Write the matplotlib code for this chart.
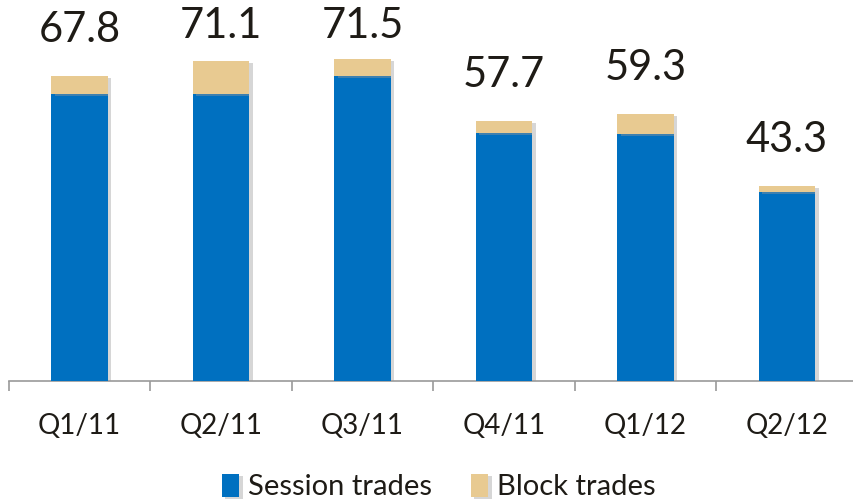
import matplotlib.pyplot as plt
import matplotlib.patheffects as pe
import numpy as np

quarters = ["Q1/11", "Q2/11", "Q3/11", "Q4/11", "Q1/12", "Q2/12"]
session = [63.8, 63.8, 67.8, 55.1, 54.9, 42.0]
block = [4.0, 7.3, 3.7, 2.6, 4.4, 1.3]
totals = ["67.8", "71.1", "71.5", "57.7", "59.3", "43.3"]

blue = "#0070C0"
tan = "#E8CA91"
txt = "#1E1B16"

plt.rcParams['font.family'] = ['Lato', 'DejaVu Sans']

fig = plt.figure(figsize=(8.54, 4.99), dpi=100)
ax = fig.add_axes([8.7 / 854, 118 / 499, 849 / 854, 360 / 499])

x = np.arange(len(quarters))
shadow = [pe.SimplePatchShadow(offset=(2.5, -1.5), shadow_rgbFace="#999999", alpha=0.4), pe.Normal()]
b1 = ax.bar(x, session, width=0.4, color=blue, label="Session trades", zorder=3)
b2 = ax.bar(x, block, width=0.4, bottom=session, color=tan, label="Block trades", zorder=3)
for bar in list(b1) + list(b2):
    bar.set_path_effects(shadow)

tot = np.array(session) + np.array(block)
label_y = np.minimum(tot + 10.2, 78.9)
for xi, yi, t in zip(x, label_y, totals):
    ax.text(xi, yi, t, ha="center", va="center", fontsize=30, color=txt)

ax.set_xlim(-0.5, 5.5)
ax.set_ylim(0, 80)
ax.set_yticks([])
for s in ["top", "right", "left"]:
    ax.spines[s].set_visible(False)
ax.spines["bottom"].set_color("#9A9A9A")
ax.spines["bottom"].set_linewidth(1.2)

ax.set_xticks(x)
ax.set_xticklabels(quarters, fontsize=20, color=txt)
ax.tick_params(axis="x", which="major", length=0, pad=23)
ax.set_xticks(np.arange(-0.5, 6.0, 1.0), minor=True)
ax.tick_params(axis="x", which="minor", length=7, width=1.2, color="#9A9A9A", direction="out")

fig.legend(handles=[b1, b2], loc="center", bbox_to_anchor=(0.5135, 12 / 499), ncol=2,
           frameon=False, fontsize=21, handlelength=0.6, handleheight=0.85,
           handletextpad=0.28, columnspacing=1.35, labelcolor=txt)

fig.savefig("out.png", dpi=100)
